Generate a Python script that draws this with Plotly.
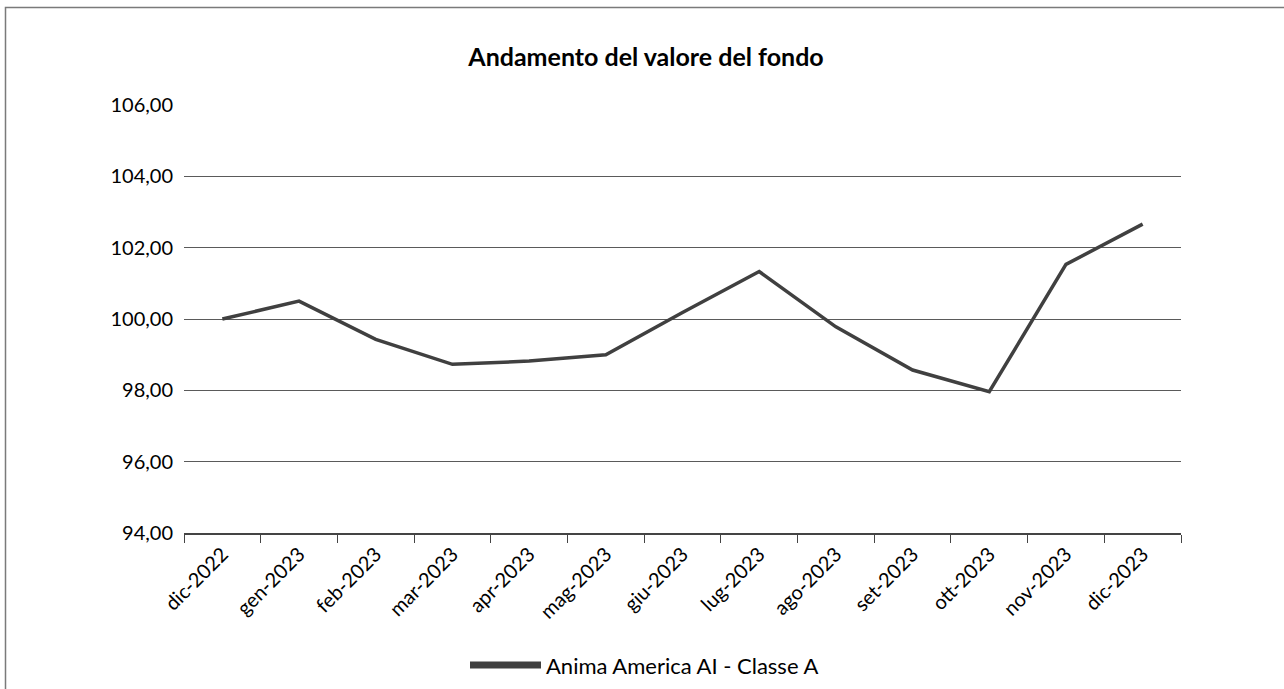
import plotly.graph_objects as go

categories = ["dic-2022", "gen-2023", "feb-2023", "mar-2023", "apr-2023", "mag-2023",
              "giu-2023", "lug-2023", "ago-2023", "set-2023", "ott-2023", "nov-2023", "dic-2023"]
values = [100.00, 100.50, 99.43, 98.73, 98.82, 99.00, 100.18, 101.33, 99.78, 98.57, 97.96, 101.53, 102.66]
series_name = "Anima America AI - Classe A"
title_text = "Andamento del valore del fondo"
y_ticks = [94, 96, 98, 100, 102, 104, 106]

FONT = "Lato, 'Open Sans', sans-serif"
W, H = 1284, 689
L, R, T, B = 184, 103, 105, 156
pw, ph = W - L - R, H - T - B

fig = go.Figure()
fig.add_trace(go.Scatter(
    x=categories, y=values, mode="lines", name=series_name,
    line=dict(color="#404040", width=3.5), showlegend=False,
))

def px_x(x):
    return (x - L) / pw

def px_y(y):
    return (H - B - y) / ph

shapes = [
    # outer frame
    dict(type="rect", xref="paper", yref="paper",
         x0=px_x(5.5), x1=px_x(1300), y0=px_y(700), y1=px_y(7.5),
         line=dict(color="#7a7a7a", width=1.5), fillcolor="rgba(0,0,0,0)", layer="below"),
    # legend sample
    dict(type="line", xref="paper", yref="paper",
         x0=px_x(470), x1=px_x(541), y0=px_y(665), y1=px_y(665),
         line=dict(color="#404040", width=7)),
]

annotations = [
    dict(text=series_name, xref="paper", yref="paper", x=px_x(544), y=px_y(665),
         xanchor="left", yanchor="middle", showarrow=False,
         font=dict(family=FONT, size=22, color="#000000")),
]

fig.update_layout(
    width=W, height=H,
    margin=dict(l=L, r=R, t=T, b=B),
    paper_bgcolor="white", plot_bgcolor="white",
    separators=",.",
    title=dict(text="<b>" + title_text + "</b>", x=646 / W, xanchor="center",
               y=1 - 57 / H, yanchor="middle",
               font=dict(family=FONT, size=25, color="#000000")),
    font=dict(family=FONT, size=20, color="#000000"),
    shapes=shapes,
    annotations=annotations,
    xaxis=dict(type="category", categoryorder="array", categoryarray=categories,
               range=[-0.5, len(categories) - 0.5],
               tickson="boundaries", ticks="outside", ticklen=8, tickcolor="#444444",
               tickangle=-45, showgrid=False, showline=True, linecolor="#444444",
               linewidth=1.5, tickfont=dict(family=FONT, size=20, color="#000000")),
    yaxis=dict(range=[94, 106], tickvals=y_ticks, tickformat=".2f",
               showgrid=True, gridcolor="#5a5a5a", gridwidth=1,
               zeroline=False, showline=False, ticks="", ticklabelstandoff=10,
               tickfont=dict(family=FONT, size=20, color="#000000")),
)

fig.write_html("out.html")
